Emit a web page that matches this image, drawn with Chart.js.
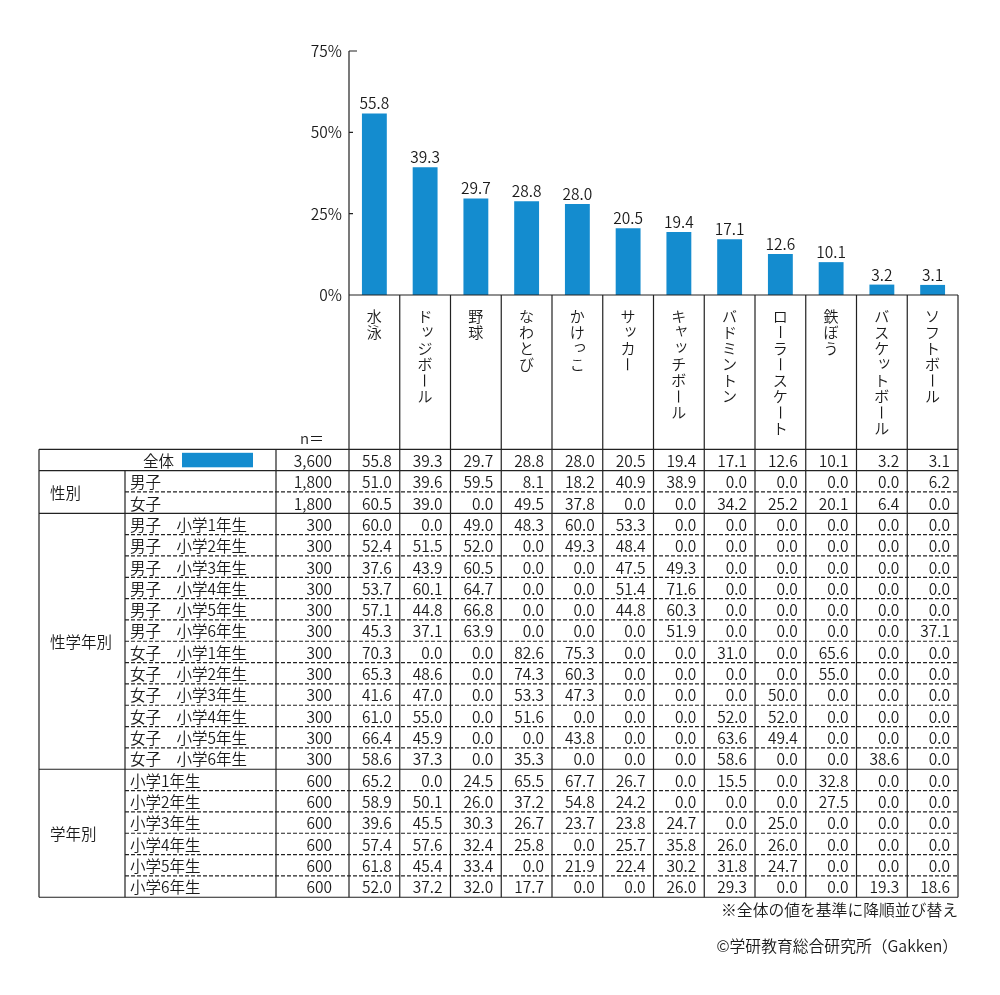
<!DOCTYPE html>
<html lang="ja">
<head>
<meta charset="utf-8">
<script src="https://cdn.jsdelivr.net/npm/chart.js@4.4.1/dist/chart.umd.min.js"></script>
<style>
  html, body { margin: 0; padding: 0; background: #fff; }
  canvas { display: block; }
</style>
</head>
<body>
<canvas id="c" width="1000" height="995"></canvas>
<script>
// ---------- DATA ----------
const categories = ['水泳','ドッジボール','野球','なわとび','かけっこ','サッカー','キャッチボール','バドミントン','ローラースケート','鉄ぼう','バスケットボール','ソフトボール'];
const overall = [55.8, 39.3, 29.7, 28.8, 28.0, 20.5, 19.4, 17.1, 12.6, 10.1, 3.2, 3.1];
const overallN = 3600;
const yTicks = [0, 25, 50, 75];

const sexLabels = ['男子', '女子'];
const sexN = [1800, 1800];
const sexValues = [
  [51.0, 39.6, 59.5, 8.1, 18.2, 40.9, 38.9, 0.0, 0.0, 0.0, 0.0, 6.2],
  [60.5, 39.0, 0.0, 49.5, 37.8, 0.0, 0.0, 34.2, 25.2, 20.1, 6.4, 0.0]
];

const sexGradeLabels = ['男子　小学1年生','男子　小学2年生','男子　小学3年生','男子　小学4年生','男子　小学5年生','男子　小学6年生',
                        '女子　小学1年生','女子　小学2年生','女子　小学3年生','女子　小学4年生','女子　小学5年生','女子　小学6年生'];
const sexGradeN = [300,300,300,300,300,300,300,300,300,300,300,300];
const sexGradeValues = [
  [60.0, 0.0, 49.0, 48.3, 60.0, 53.3, 0.0, 0.0, 0.0, 0.0, 0.0, 0.0],
  [52.4, 51.5, 52.0, 0.0, 49.3, 48.4, 0.0, 0.0, 0.0, 0.0, 0.0, 0.0],
  [37.6, 43.9, 60.5, 0.0, 0.0, 47.5, 49.3, 0.0, 0.0, 0.0, 0.0, 0.0],
  [53.7, 60.1, 64.7, 0.0, 0.0, 51.4, 71.6, 0.0, 0.0, 0.0, 0.0, 0.0],
  [57.1, 44.8, 66.8, 0.0, 0.0, 44.8, 60.3, 0.0, 0.0, 0.0, 0.0, 0.0],
  [45.3, 37.1, 63.9, 0.0, 0.0, 0.0, 51.9, 0.0, 0.0, 0.0, 0.0, 37.1],
  [70.3, 0.0, 0.0, 82.6, 75.3, 0.0, 0.0, 31.0, 0.0, 65.6, 0.0, 0.0],
  [65.3, 48.6, 0.0, 74.3, 60.3, 0.0, 0.0, 0.0, 0.0, 55.0, 0.0, 0.0],
  [41.6, 47.0, 0.0, 53.3, 47.3, 0.0, 0.0, 0.0, 50.0, 0.0, 0.0, 0.0],
  [61.0, 55.0, 0.0, 51.6, 0.0, 0.0, 0.0, 52.0, 52.0, 0.0, 0.0, 0.0],
  [66.4, 45.9, 0.0, 0.0, 43.8, 0.0, 0.0, 63.6, 49.4, 0.0, 0.0, 0.0],
  [58.6, 37.3, 0.0, 35.3, 0.0, 0.0, 0.0, 58.6, 0.0, 0.0, 38.6, 0.0]
];

const gradeLabels = ['小学1年生','小学2年生','小学3年生','小学4年生','小学5年生','小学6年生'];
const gradeN = [600,600,600,600,600,600];
const gradeValues = [
  [65.2, 0.0, 24.5, 65.5, 67.7, 26.7, 0.0, 15.5, 0.0, 32.8, 0.0, 0.0],
  [58.9, 50.1, 26.0, 37.2, 54.8, 24.2, 0.0, 0.0, 0.0, 27.5, 0.0, 0.0],
  [39.6, 45.5, 30.3, 26.7, 23.7, 23.8, 24.7, 0.0, 25.0, 0.0, 0.0, 0.0],
  [57.4, 57.6, 32.4, 25.8, 0.0, 25.7, 35.8, 26.0, 26.0, 0.0, 0.0, 0.0],
  [61.8, 45.4, 33.4, 0.0, 21.9, 22.4, 30.2, 31.8, 24.7, 0.0, 0.0, 0.0],
  [52.0, 37.2, 32.0, 17.7, 0.0, 0.0, 26.0, 29.3, 0.0, 0.0, 19.3, 18.6]
];

const groupNames = ['性別', '性学年別', '学年別'];
const totalLabel = '全体';
const nLabel = 'n＝';
const note1 = '※全体の値を基準に降順並び替え';
const note2 = '©学研教育総合研究所（Gakken）';

// ---------- STYLE ----------
const FONT = '"Noto Sans CJK JP","Noto Sans",sans-serif';
const FW = '350';
const BAR = '#148ccf';
const INK = '#1a1a1a';
const LINE = '#222';

const tableTop = 449.3, rowH = 21.33;
const xLeft = 39, xSub = 125, xN = 276;

const groups = [
  { name: groupNames[0], labels: sexLabels, n: sexN, vals: sexValues },
  { name: groupNames[1], labels: sexGradeLabels, n: sexGradeN, vals: sexGradeValues },
  { name: groupNames[2], labels: gradeLabels, n: gradeN, vals: gradeValues }
];

const smallKana = 'ッっャゃュゅョょァィゥェォぁぃぅぇぉ';

const tablePlugin = {
  id: 'tablePlugin',
  afterDraw(chart) {
    const { ctx, chartArea: ca, scales: { x, y } } = chart;
    const half = (x.getPixelForValue(1) - x.getPixelForValue(0)) / 2;
    const colR = i => x.getPixelForValue(i) + half;
    const nRows = 1 + groups.reduce((s, g) => s + g.labels.length, 0);
    const tableBottom = tableTop + nRows * rowH;
    const y0 = y.getPixelForValue(0);

    ctx.save();
    ctx.strokeStyle = LINE;
    ctx.lineWidth = 1.2;
    ctx.beginPath();
    ctx.moveTo(ca.left, y.getPixelForValue(yTicks[yTicks.length - 1]));
    ctx.lineTo(ca.left, y0);
    yTicks.forEach(v => {
      if (v === 0) return;
      const py = y.getPixelForValue(v);
      const len = v === yTicks[yTicks.length - 1] ? 8 : 4;
      ctx.moveTo(ca.left, py);
      ctx.lineTo(ca.left + len, py);
    });
    ctx.moveTo(ca.left, y0);
    ctx.lineTo(ca.right, y0);
    for (let i = 0; i < categories.length; i++) {
      const cx = colR(i);
      ctx.moveTo(cx, y0);
      ctx.lineTo(cx, tableBottom);
    }
    ctx.moveTo(ca.left, y0);
    ctx.lineTo(ca.left, tableBottom);
    ctx.moveTo(xLeft, tableTop); ctx.lineTo(ca.right, tableTop);
    ctx.moveTo(xLeft, tableTop); ctx.lineTo(xLeft, tableBottom);
    ctx.moveTo(xN, tableTop); ctx.lineTo(xN, tableBottom);
    ctx.moveTo(xSub, tableTop + rowH); ctx.lineTo(xSub, tableBottom);
    ctx.stroke();

    let r = 1;
    const solidYs = [tableTop + rowH];
    const dashedYs = [];
    groups.forEach(g => {
      g.labels.forEach((_, k) => {
        const yy = tableTop + (r + 1) * rowH;
        if (k === g.labels.length - 1) solidYs.push(yy); else dashedYs.push(yy);
        r++;
      });
    });
    ctx.beginPath();
    solidYs.forEach(yy => { ctx.moveTo(xLeft, yy); ctx.lineTo(ca.right, yy); });
    ctx.stroke();
    ctx.setLineDash([4, 2]);
    ctx.beginPath();
    dashedYs.forEach(yy => { ctx.moveTo(xSub, yy); ctx.lineTo(ca.right, yy); });
    ctx.stroke();
    ctx.setLineDash([]);

    ctx.fillStyle = INK;
    ctx.font = FW + ' 15.5px ' + FONT;
    ctx.textAlign = 'center';
    ctx.textBaseline = 'alphabetic';
    const meta = chart.getDatasetMeta(0);
    meta.data.forEach((bar, i) => {
      ctx.fillText(overall[i].toFixed(1), bar.x, bar.y - 4);
    });

    ctx.font = FW + ' 15px ' + FONT;
    ctx.textBaseline = 'middle';
    categories.forEach((lab, i) => {
      const cx = x.getPixelForValue(i);
      [...lab].forEach((ch, k) => {
        const cy = 316 + k * 16.1;
        ctx.save();
        if (ch === 'ー') {
          ctx.translate(cx, cy);
          ctx.rotate(Math.PI / 2);
          ctx.fillText(ch, 0, 0);
        } else if (smallKana.includes(ch)) {
          ctx.fillText(ch, cx + 2.5, cy - 3);
        } else {
          ctx.fillText(ch, cx, cy);
        }
        ctx.restore();
      });
    });

    ctx.textAlign = 'right';
    ctx.fillText(nLabel, 324, 438);

    ctx.font = FW + ' 15.5px ' + FONT;
    const fmtN = v => v.toLocaleString('en-US');
    const drawVals = (vals, cy) => {
      ctx.textAlign = 'right';
      vals.forEach((v, i) => ctx.fillText(v.toFixed(1), colR(i) - 8, cy));
    };

    let cy = tableTop + rowH / 2 + 1;
    ctx.textAlign = 'right';
    ctx.fillText(totalLabel, 174, cy);
    ctx.fillStyle = BAR;
    ctx.fillRect(182, tableTop + 3.5, 71, 14.5);
    ctx.fillStyle = INK;
    ctx.fillText(fmtN(overallN), 332, cy);
    drawVals(overall, cy);

    r = 1;
    groups.forEach(g => {
      const gTop = tableTop + r * rowH;
      const gMid = gTop + g.labels.length * rowH / 2;
      ctx.textAlign = 'left';
      ctx.fillText(g.name, 50, gMid + 1);
      g.labels.forEach((lab, k) => {
        const ry = tableTop + r * rowH + rowH / 2 + 1;
        ctx.textAlign = 'left';
        ctx.fillText(lab, 130, ry);
        ctx.textAlign = 'right';
        ctx.fillText(fmtN(g.n[k]), 332, ry);
        drawVals(g.vals[k], ry);
        r++;
      });
    });

    ctx.textAlign = 'right';
    ctx.font = FW + ' 15.8px ' + FONT;
    ctx.fillText(note1, ca.right, 910);
    ctx.fillText(note2, ca.right, 946);
    ctx.restore();
  }
};

new Chart(document.getElementById('c'), {
  type: 'bar',
  data: {
    labels: categories,
    datasets: [{
      data: overall,
      backgroundColor: BAR,
      borderWidth: 0,
      barPercentage: 0.49,
      categoryPercentage: 1.0
    }]
  },
  options: {
    responsive: false,
    animation: false,
    layout: { padding: { left: 0, right: 42, top: 51, bottom: 700 } },
    plugins: { legend: { display: false }, tooltip: { enabled: false } },
    scales: {
      x: { display: false, offset: true },
      y: {
        min: 0, max: 75,
        afterBuildTicks(scale) { scale.ticks = yTicks.map(v => ({ value: v })); },
        afterFit(scale) { scale.width = 349; },
        ticks: {
          callback: v => v + '%',
          padding: 7,
          color: INK,
          font: { family: FONT, size: 15.5, weight: FW }
        },
        grid: { display: false, drawTicks: false },
        border: { display: false }
      }
    }
  },
  plugins: [tablePlugin]
});
</script>
</body>
</html>
